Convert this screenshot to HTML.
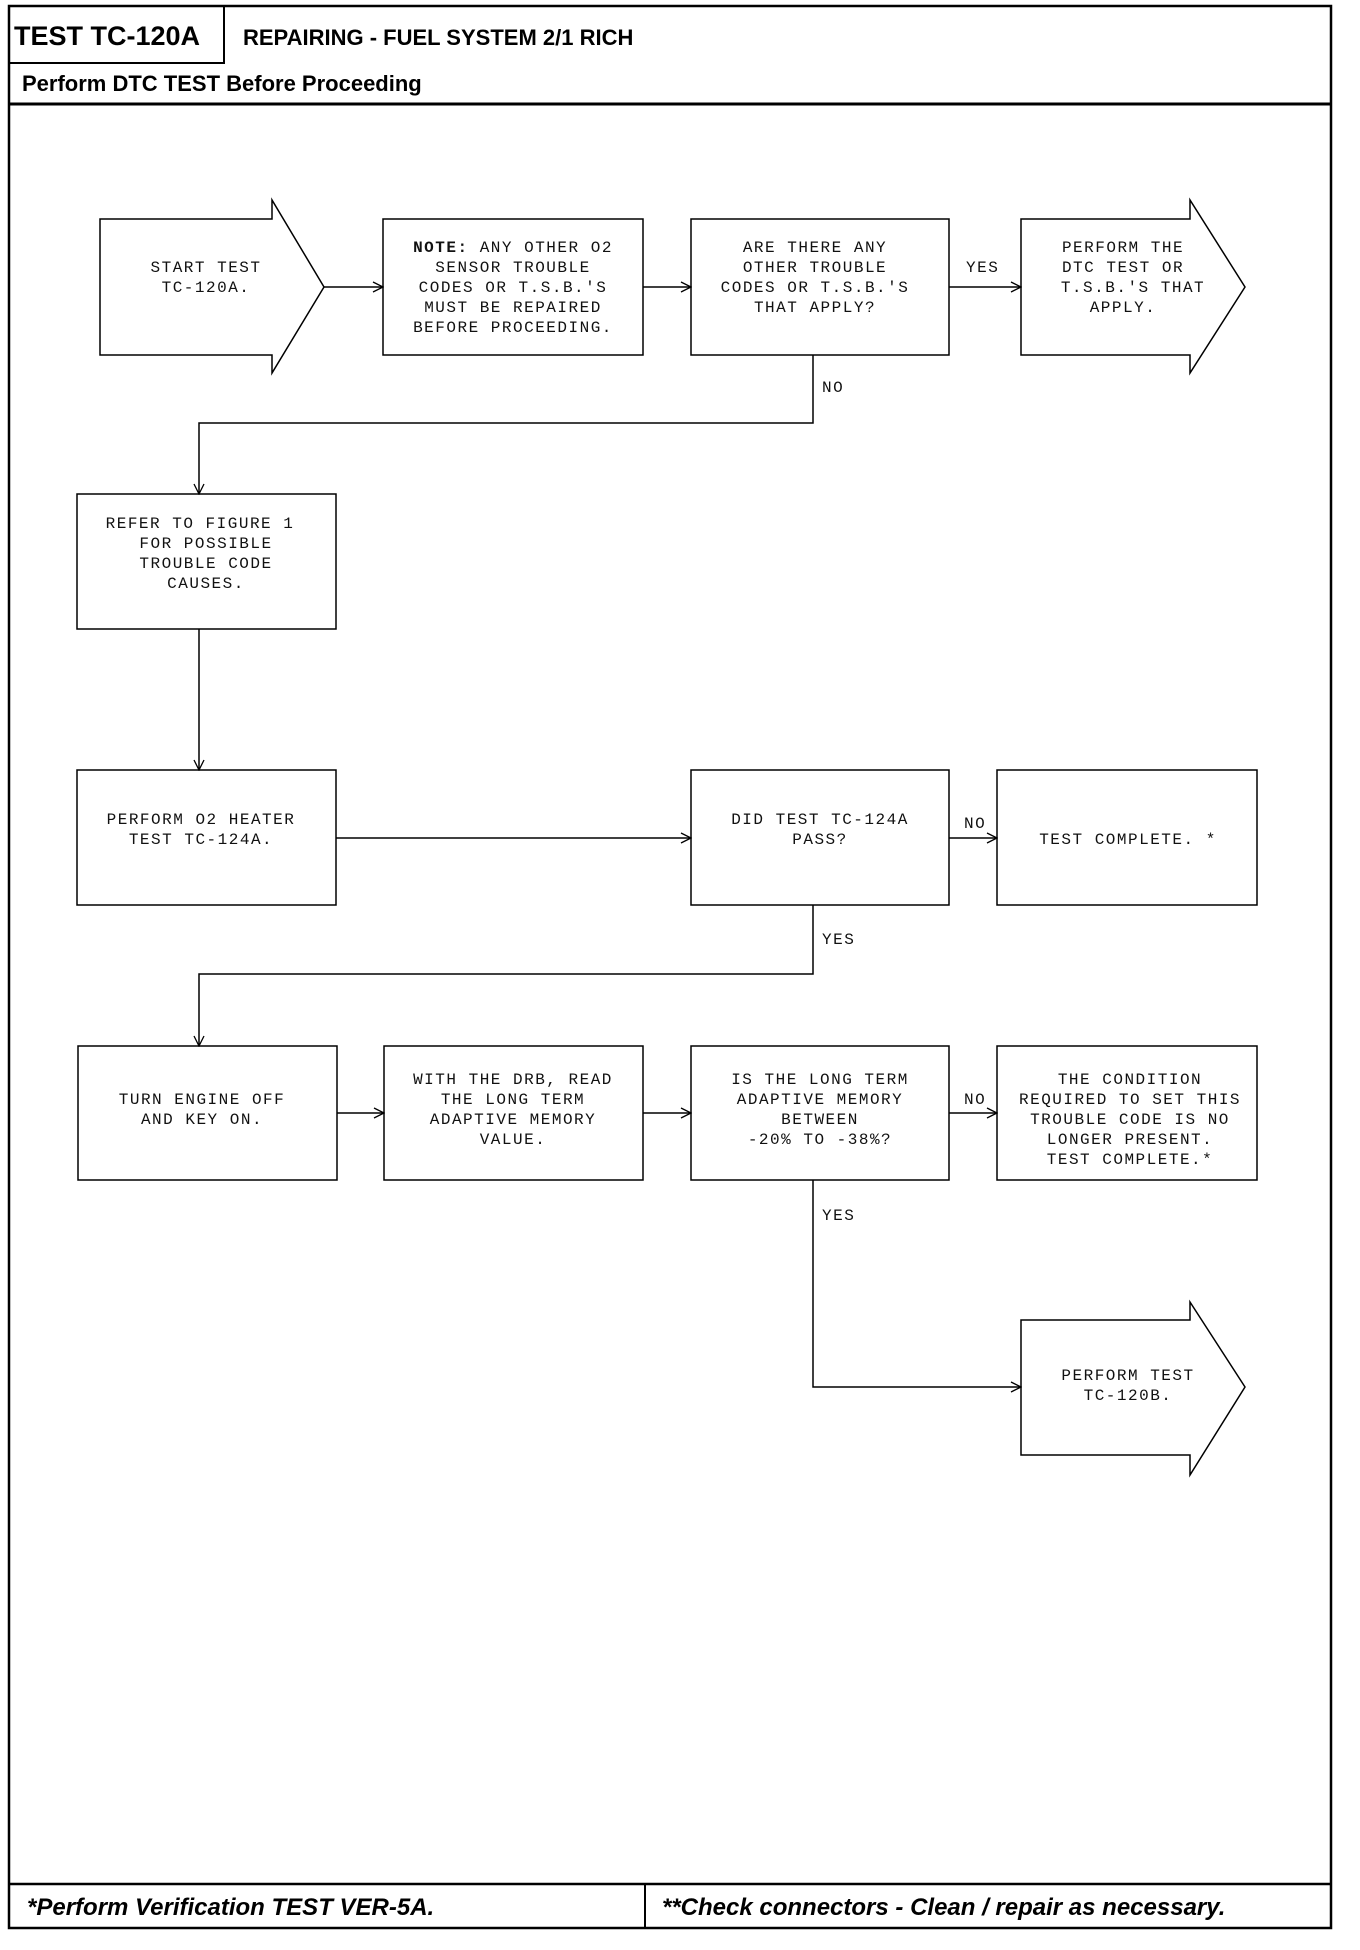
<!DOCTYPE html>
<html><head><meta charset="utf-8"><style>
html,body{margin:0;padding:0;background:#fff}
svg{display:block}
.m{font-family:"Liberation Mono",monospace;font-size:16px;letter-spacing:1.5px;fill:#111}
.h{font-family:"Liberation Sans",sans-serif;font-weight:bold;fill:#000}
</style></head><body>
<svg width="1360" height="1950" viewBox="0 0 1360 1950" xmlns="http://www.w3.org/2000/svg">
<defs><marker id="a" markerWidth="12" markerHeight="12" refX="11" refY="6" orient="auto" markerUnits="userSpaceOnUse"><path d="M1,1 L11,6 L1,11" fill="none" stroke="#000" stroke-width="1.3"/></marker></defs>
<g fill="none" stroke="#000">
<rect x="9" y="6" width="1322" height="1922" stroke-width="2.5"/>
<rect x="9" y="6" width="215" height="57" stroke-width="2"/>
<line x1="9" y1="104" x2="1331" y2="104" stroke-width="3"/>
<line x1="9" y1="1884" x2="1331" y2="1884" stroke-width="2.5"/>
<line x1="645" y1="1884" x2="645" y2="1928" stroke-width="2"/>
</g>
<text class="h" x="14" y="45" font-size="27">TEST TC-120A</text>
<text class="h" x="243" y="45" font-size="22">REPAIRING - FUEL SYSTEM 2/1 RICH</text>
<text class="h" x="22" y="91" font-size="22">Perform DTC TEST Before Proceeding</text>
<text class="h" x="27" y="1915" font-size="24" font-style="italic">*Perform Verification TEST VER-5A.</text>
<text class="h" x="662" y="1915" font-size="24" font-style="italic">**Check connectors - Clean / repair as necessary.</text>

<g fill="#fff" stroke="#000" stroke-width="1.5">
<path d="M100,219 H272 V200 L324,287 L272,373 V355 H100 Z"/>
<rect x="383" y="219" width="260" height="136"/>
<rect x="691" y="219" width="258" height="136"/>
<path d="M1021,219 H1190 V200 L1245,287 L1190,373 V355 H1021 Z"/>
<rect x="77" y="494" width="259" height="135"/>
<rect x="77" y="770" width="259" height="135"/>
<rect x="691" y="770" width="258" height="135"/>
<rect x="997" y="770" width="260" height="135"/>
<rect x="78" y="1046" width="259" height="134"/>
<rect x="384" y="1046" width="259" height="134"/>
<rect x="691" y="1046" width="258" height="134"/>
<rect x="997" y="1046" width="260" height="134"/>
<path d="M1021,1320 H1190 V1302 L1245,1387 L1190,1475 V1455 H1021 Z"/>
</g>

<g fill="none" stroke="#000" stroke-width="1.5" marker-end="url(#a)">
<line x1="324" y1="287" x2="383" y2="287"/>
<line x1="643" y1="287" x2="691" y2="287"/>
<line x1="949" y1="287" x2="1021" y2="287"/>
<polyline points="813,355 813,423 199,423 199,494"/>
<line x1="199" y1="629" x2="199" y2="770"/>
<line x1="336" y1="838" x2="691" y2="838"/>
<line x1="949" y1="838" x2="997" y2="838"/>
<polyline points="813,905 813,974 199,974 199,1046"/>
<line x1="337" y1="1113" x2="384" y2="1113"/>
<line x1="643" y1="1113" x2="691" y2="1113"/>
<line x1="949" y1="1113" x2="997" y2="1113"/>
<polyline points="813,1180 813,1387 1021,1387"/>
</g>

<g class="m" text-anchor="middle">
<text x="206" y="272">START TEST</text>
<text x="206" y="292">TC-120A.</text>

<text x="513" y="252"><tspan font-weight="bold">NOTE:</tspan> ANY OTHER O2</text>
<text x="513" y="272">SENSOR TROUBLE</text>
<text x="513" y="292">CODES OR T.S.B.'S</text>
<text x="513" y="312">MUST BE REPAIRED</text>
<text x="513" y="332">BEFORE PROCEEDING.</text>

<text x="815" y="252">ARE THERE ANY</text>
<text x="815" y="272">OTHER TROUBLE</text>
<text x="815" y="292">CODES OR T.S.B.'S</text>
<text x="815" y="312">THAT APPLY?</text>

<text x="1123" y="252">PERFORM THE</text>
<text x="1123" y="272">DTC TEST OR</text>
<text x="1133" y="292">T.S.B.'S THAT</text>
<text x="1123" y="312">APPLY.</text>

<text x="200" y="528">REFER TO FIGURE 1</text>
<text x="206" y="548">FOR POSSIBLE</text>
<text x="206" y="568">TROUBLE CODE</text>
<text x="206" y="588">CAUSES.</text>

<text x="201" y="824">PERFORM O2 HEATER</text>
<text x="201" y="844">TEST TC-124A.</text>

<text x="820" y="824">DID TEST TC-124A</text>
<text x="820" y="844">PASS?</text>

<text x="1128" y="844">TEST COMPLETE. *</text>

<text x="202" y="1104">TURN ENGINE OFF</text>
<text x="202" y="1124">AND KEY ON.</text>

<text x="513" y="1084">WITH THE DRB, READ</text>
<text x="513" y="1104">THE LONG TERM</text>
<text x="513" y="1124">ADAPTIVE MEMORY</text>
<text x="513" y="1144">VALUE.</text>

<text x="820" y="1084">IS THE LONG TERM</text>
<text x="820" y="1104">ADAPTIVE MEMORY</text>
<text x="820" y="1124">BETWEEN</text>
<text x="820" y="1144">-20% TO -38%?</text>

<text x="1130" y="1084">THE CONDITION</text>
<text x="1130" y="1104">REQUIRED TO SET THIS</text>
<text x="1130" y="1124">TROUBLE CODE IS NO</text>
<text x="1130" y="1144">LONGER PRESENT.</text>
<text x="1130" y="1164">TEST COMPLETE.*</text>

<text x="1128" y="1380">PERFORM TEST</text>
<text x="1128" y="1400">TC-120B.</text>
</g>
<g class="m">
<text x="966" y="272">YES</text>
<text x="822" y="392">NO</text>
<text x="964" y="828">NO</text>
<text x="822" y="944">YES</text>
<text x="964" y="1104">NO</text>
<text x="822" y="1220">YES</text>
</g>
</svg>
</body></html>
